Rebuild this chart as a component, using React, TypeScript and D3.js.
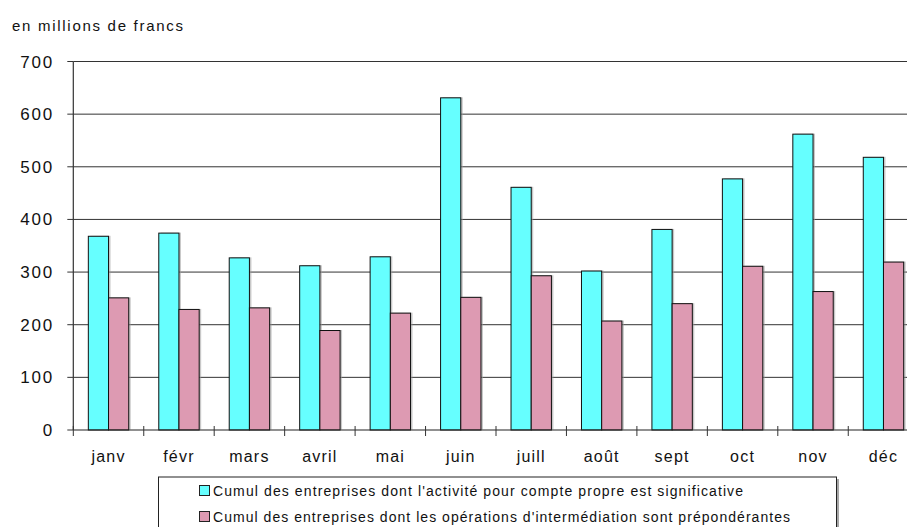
import React from "react";
import * as d3 from "d3";

const months = ["janv", "févr", "mars", "avril", "mai", "juin", "juill", "août", "sept", "oct", "nov", "déc"];
const comptePropre = [368, 374, 327, 312, 329, 631, 461, 302, 381, 477, 562, 518];
const intermediation = [251, 229, 232, 189, 222, 252, 293, 207, 240, 311, 263, 319];
const yTicks = [0, 100, 200, 300, 400, 500, 600, 700];
const seriesNames = [
  "Cumul des entreprises dont l'activité pour compte propre est significative",
  "Cumul des entreprises dont les opérations d'intermédiation sont prépondérantes",
];
const colors = ["#66ffff", "#dd9ab2"];

const W = 907;
const H = 527;
const left = 73.3;
const right = 918.7;
const top = 61.5;
const bottom = 430;
const FONT = "'Liberation Sans', Arial, Helvetica, sans-serif";

export default function App() {
  const x = d3.scaleBand<string>().domain(months).range([left, right]).paddingInner(0).paddingOuter(0);
  const y = d3.scaleLinear().domain([0, 700]).range([bottom, top]);
  const bw = 20.2;
  const series = [comptePropre, intermediation];

  return (
    <svg width={W} height={H} style={{ position: "absolute", left: 0, top: 0, background: "#fff" }} fontFamily={FONT}>
      <text x={12} y={31} fontSize={15} fill="#111" textLength={171} lengthAdjust="spacing">
        en millions de francs
      </text>

      {/* horizontal gridlines */}
      {yTicks.slice(1).map((t) => (
        <line key={t} x1={left} x2={right} y1={y(t)} y2={y(t)} stroke="#333" strokeWidth={1} />
      ))}

      {/* bars */}
      {months.map((m, i) => {
        const cx = (x(m) as number) + x.bandwidth() / 2;
        return series.map((s, k) => {
          const bx = cx - bw + k * bw;
          const by = y(s[i]);
          const bh = bottom - by;
          return (
            <g key={m + k}>
              <rect x={bx + 2} y={by - 0.5} width={bw} height={bh} fill="#9a9a9a" opacity={0.55} />
              <rect x={bx} y={by} width={bw} height={bh} fill={colors[k]} stroke="#111" strokeWidth={1} />
            </g>
          );
        });
      })}

      {/* y axis */}
      <line x1={left} x2={left} y1={top} y2={bottom} stroke="#333" strokeWidth={1.2} />
      {yTicks.map((t) => (
        <g key={t}>
          <line x1={left - 6} x2={left} y1={y(t)} y2={y(t)} stroke="#333" />
          <text
            x={54}
            y={y(t) + 6}
            fontSize={17}
            textAnchor="end"
            letterSpacing={1.8}
            fill="#111"
          >
            {t}
          </text>
        </g>
      ))}

      {/* x axis */}
      <line x1={left} x2={right} y1={bottom} y2={bottom} stroke="#222" strokeWidth={1.2} />
      {d3.range(months.length + 1).map((i) => {
        const tx = left + i * x.bandwidth();
        return <line key={i} x1={tx} x2={tx} y1={bottom - 4} y2={bottom + 6} stroke="#333" />;
      })}
      {months.map((m) => (
        <text
          key={m}
          x={(x(m) as number) + x.bandwidth() / 2}
          y={462}
          fontSize={16}
          textAnchor="middle"
          letterSpacing={1.2}
          fill="#111"
        >
          {m}
        </text>
      ))}

      {/* legend */}
      <rect x={158.5} y={477} width={678} height={60} fill="#fff" stroke="#222" strokeWidth={1} />
      <line x1={838} x2={838} y1={479} y2={537} stroke="#888" strokeWidth={1.5} />
      {seriesNames.map((name, k) => {
        const ly = 491 + k * 26;
        return (
          <g key={name}>
            <rect x={199.5} y={ly - 5.5} width={10} height={10} fill={colors[k]} stroke="#222" />
            <text
              x={213}
              y={ly + 5}
              fontSize={14}
              fill="#111"
              textLength={k === 0 ? 530 : 577}
              lengthAdjust="spacing"
            >
              {name}
            </text>
          </g>
        );
      })}
    </svg>
  );
}
